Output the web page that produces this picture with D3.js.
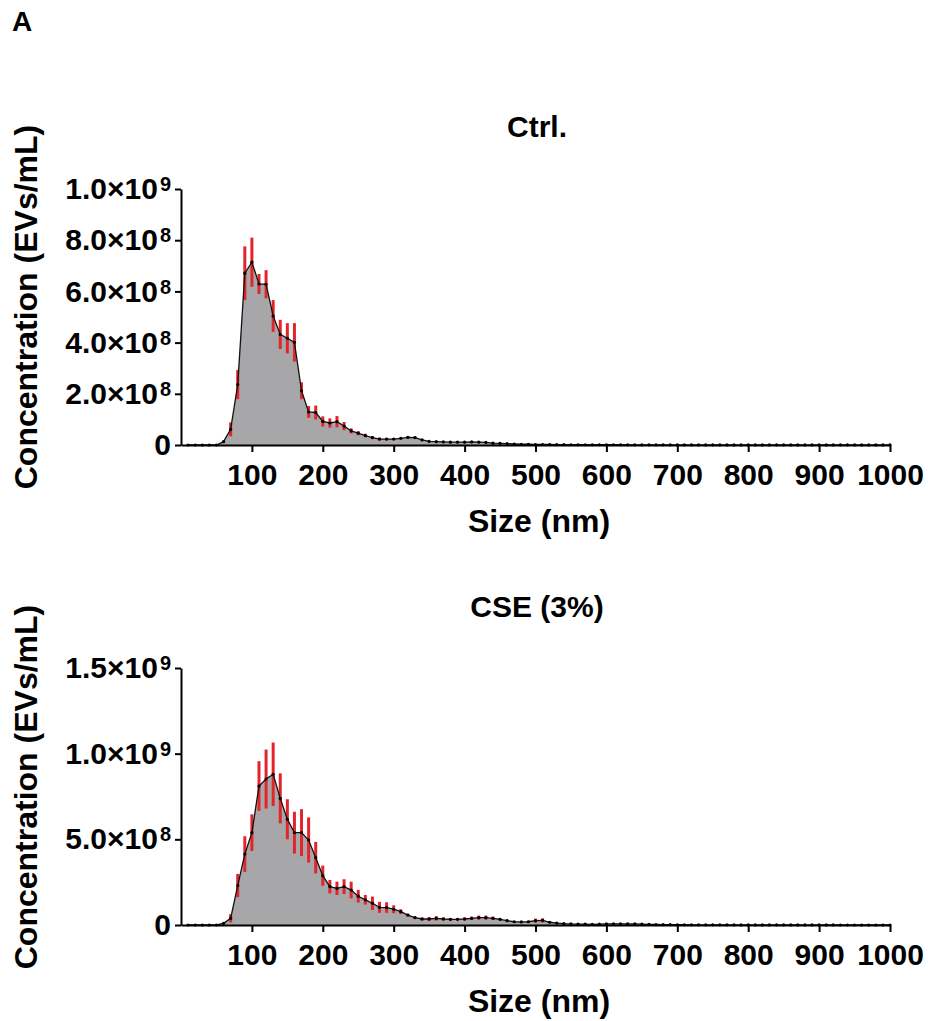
<!DOCTYPE html>
<html>
<head>
<meta charset="utf-8">
<script src="https://cdn.jsdelivr.net/npm/d3@7"></script>
<style>
  body { margin: 0; background: #fff; }
  svg { display: block; }
  text { font-family: "Liberation Sans", Arial, sans-serif; font-weight: bold; }
</style>
</head>
<body>
<div id="vis"></div>
<script>
// bin centres (nm)
const sizes = [10, 20, 30, 40, 50, 60, 70, 80, 90, 100,
  110, 120, 130, 140, 150, 160, 170, 180, 190, 200,
  210, 220, 230, 240, 250, 260, 270, 280, 290, 300,
  310, 320, 330, 340, 350, 360, 370, 380, 390, 400,
  410, 420, 430, 440, 450, 460, 470, 480, 490, 500,
  510, 520, 530, 540, 550, 560, 570, 580, 590, 600,
  610, 620, 630, 640, 650, 660, 670, 680, 690, 700,
  710, 720, 730, 740, 750, 760, 770, 780, 790, 800,
  810, 820, 830, 840, 850, 860, 870, 880, 890, 900,
  910, 920, 930, 940, 950, 960, 970, 980, 990, 1000];

// Ctrl. mean concentration (EVs/mL)
const ctrlMean = [0, 0, 0, 0, 0, 1.3e7, 6.1e7, 2.36e8, 6.71e8, 7.14e8,
  6.29e8, 6.28e8, 5.04e8, 4.32e8, 4.17e8, 4.01e8, 2.12e8, 1.29e8, 1.27e8, 9.2e7,
  8.6e7, 9.1e7, 7.4e7, 5.5e7, 4.6e7, 3.7e7, 2.9e7, 2.3e7, 2.3e7, 2.3e7,
  2.6e7, 3.0e7, 2.9e7, 2.0e7, 1.4e7, 1.3e7, 1.2e7, 1.1e7, 1.1e7, 1.1e7,
  1.2e7, 1.1e7, 1.0e7, 7e6, 6e6, 5e6, 4e6, 3e6, 3e6, 2e6,
  2e6, 2e6, 1.5e6, 1.5e6, 1e6, 1e6, 1e6, 1e6, 1e6, 1e6,
  1e6, 1e6, 8e5, 8e5, 6e5, 6e5, 5e5, 5e5, 5e5, 4e5,
  4e5, 4e5, 3e5, 3e5, 3e5, 3e5, 2e5, 2e5, 2e5, 2e5,
  2e5, 2e5, 1e5, 1e5, 1e5, 1e5, 1e5, 1e5, 1e5, 1e5,
  1e5, 1e5, 1e5, 1e5, 1e5, 1e5, 1e5, 1e5, 1e5, 1e5];

// Ctrl. SEM
const ctrlSem = [0, 0, 0, 0, 0, 3e6, 2.7e7, 5.7e7, 1.05e8, 9.6e7,
  3.9e7, 5.5e7, 6.2e7, 5.7e7, 5.9e7, 7.5e7, 3.3e7, 2.3e7, 2.7e7, 2.0e7,
  1.8e7, 2.2e7, 1.6e7, 1.0e7, 8e6, 7e6, 6e6, 6e6, 5e6, 4e6,
  4e6, 5e6, 4e6, 3e6, 2e6, 2e6, 2e6, 2e6, 2e6, 2e6,
  2e6, 2e6, 2e6, 1e6, 1e6, 1e6, 1e6, 1e6, 1e6, 1e6,
  1e6, 1e6, 5e5, 5e5, 5e5, 5e5, 5e5, 5e5, 5e5, 5e5,
  5e5, 5e5, 5e5, 5e5, 3e5, 3e5, 3e5, 3e5, 3e5, 3e5,
  2e5, 2e5, 2e5, 2e5, 2e5, 2e5, 1e5, 1e5, 1e5, 1e5,
  1e5, 1e5, 1e5, 1e5, 1e5, 1e5, 1e5, 1e5, 1e5, 1e5,
  1e5, 1e5, 1e5, 1e5, 1e5, 1e5, 1e5, 1e5, 1e5, 1e5];

// CSE (3%) mean concentration (EVs/mL)
const cseMean = [0, 0, 0, 0, 0, 1.0e7, 3.9e7, 2.3e8, 4.14e8, 5.39e8,
  8.11e8, 8.52e8, 8.8e8, 7.39e8, 6.17e8, 5.39e8, 5.39e8, 4.96e8, 3.93e8, 2.88e8,
  2.24e8, 2.14e8, 2.24e8, 2.04e8, 1.68e8, 1.47e8, 1.27e8, 1.03e8, 1.02e8, 9.2e7,
  7.8e7, 5.8e7, 4.3e7, 3.5e7, 3.5e7, 3.9e7, 3.5e7, 3.3e7, 3.3e7, 3.5e7,
  3.9e7, 4.3e7, 4.3e7, 3.9e7, 3.3e7, 2.5e7, 1.9e7, 1.8e7, 1.9e7, 2.5e7,
  2.7e7, 1.6e7, 1.1e7, 8e6, 6e6, 5e6, 5e6, 4e6, 5e6, 6e6,
  7e6, 7e6, 6e6, 6e6, 5e6, 4e6, 3e6, 2e6, 2e6, 1.5e6,
  1.5e6, 1e6, 1e6, 1e6, 1e6, 1e6, 8e5, 8e5, 6e5, 6e5,
  5e5, 5e5, 5e5, 4e5, 4e5, 3e5, 3e5, 3e5, 2e5, 2e5,
  2e5, 2e5, 1e5, 1e5, 1e5, 1e5, 1e5, 1e5, 1e5, 1e5];

// CSE (3%) SEM
const cseSem = [0, 0, 0, 0, 0, 3e6, 2.4e7, 6.8e7, 1.04e8, 1.07e8,
  1.45e8, 1.72e8, 1.85e8, 1.46e8, 1.17e8, 1.22e8, 1.37e8, 1.32e8, 9.2e7, 5.9e7,
  3.9e7, 3.9e7, 4.3e7, 4.9e7, 3.7e7, 2.8e7, 3.9e7, 3.2e7, 3.1e7, 2.3e7,
  1.4e7, 8e6, 6e6, 1.0e7, 1.2e7, 1.3e7, 1.0e7, 8e6, 6e6, 1.0e7,
  1.0e7, 1.2e7, 1.2e7, 1.0e7, 8e6, 6e6, 5e6, 5e6, 6e6, 1.2e7,
  1.2e7, 5e6, 4e6, 3e6, 2e6, 2e6, 2e6, 2e6, 2e6, 2e6,
  2e6, 2e6, 2e6, 2e6, 2e6, 1e6, 1e6, 1e6, 1e6, 5e5,
  5e5, 5e5, 5e5, 5e5, 5e5, 5e5, 3e5, 3e5, 3e5, 3e5,
  2e5, 2e5, 2e5, 2e5, 2e5, 1e5, 1e5, 1e5, 1e5, 1e5,
  1e5, 1e5, 1e5, 1e5, 1e5, 1e5, 1e5, 1e5, 1e5, 1e5];

const xTicks = [100, 200, 300, 400, 500, 600, 700, 800, 900, 1000];
const ctrlTicks = [0, 2e8, 4e8, 6e8, 8e8, 1e9];
const cseTicks = [0, 5e8, 1e9, 1.5e9];

const WIDTH = 928;
const HEIGHT = 1021;
const FONT = 30;
const FONT_TITULO_EJE = 32;

const SVG = d3.select("#vis").append("svg")
  .attr("width", WIDTH)
  .attr("height", HEIGHT);

SVG.append("text")
  .text("A")
  .attr("x", 12)
  .attr("y", 31)
  .attr("font-size", 28);

const xScale = d3.scaleLinear().domain([0, 1000]).range([181, 890]);

function panel(means, sems, ticks, yMax, yBottom, yTop, title, offset) {
  const yScale = d3.scaleLinear().domain([0, yMax]).range([yBottom, yTop]);
  const datos = sizes.map((s, i) => ({ size: s, mean: means[i], sem: sems[i] }));
  const g = SVG.append("g");

  g.append("path")
    .datum(datos)
    .attr("fill", "#a7a7a9")
    .attr("d", d3.area()
      .x(d => xScale(d.size))
      .y0(yScale(0))
      .y1(d => yScale(d.mean)));

  g.selectAll("line.err")
    .data(datos.filter(d => d.sem > 0))
    .join("line")
    .attr("class", "err")
    .attr("x1", d => xScale(d.size))
    .attr("x2", d => xScale(d.size))
    .attr("y1", d => yScale(d.mean - d.sem))
    .attr("y2", d => yScale(d.mean + d.sem))
    .attr("stroke", "#e4242b")
    .attr("stroke-width", 3);

  g.append("path")
    .datum(datos)
    .attr("fill", "none")
    .attr("stroke", "#111")
    .attr("stroke-width", 1.3)
    .attr("d", d3.line()
      .x(d => xScale(d.size))
      .y(d => yScale(d.mean)));

  g.selectAll("circle")
    .data(datos)
    .join("circle")
    .attr("cx", d => xScale(d.size))
    .attr("cy", d => yScale(d.mean))
    .attr("r", 1.6)
    .attr("fill", "#000");

  // ejes
  const ejeY = g.append("g")
    .attr("transform", `translate(${xScale(0)}, 0)`)
    .call(d3.axisLeft(yScale)
      .tickValues(ticks)
      .tickSize(6)
      .tickSizeOuter(0)
      .tickPadding(4)
      .tickFormat(() => ""));

  ejeY.selectAll(".tick text").each(function(d) {
    const t = d3.select(this);
    if (d === 0) {
      t.text("0");
      return;
    }
    const [m, e] = d.toExponential(1).split("e");
    t.append("tspan").text(`${m}×10`);
    t.append("tspan")
      .attr("dx", 2)
      .attr("dy", -8)
      .attr("font-size", 20)
      .text(+e);
  });

  const ejeX = g.append("g")
    .attr("transform", `translate(0, ${yBottom})`)
    .call(d3.axisBottom(xScale)
      .tickValues(xTicks)
      .tickSize(7)
      .tickSizeOuter(0)
      .tickPadding(12)
      .tickFormat(d3.format("d")));

  [ejeX, ejeY].forEach(eje => {
    eje.attr("font-size", FONT)
      .attr("font-family", null);
    eje.select(".domain").attr("stroke", "#000").attr("stroke-width", 2);
    eje.selectAll(".tick line").attr("stroke", "#000").attr("stroke-width", 2);
    eje.selectAll(".tick text").attr("fill", "#000");
  });

  g.append("text")
    .text(title)
    .attr("x", 537)
    .attr("y", 137 + offset)
    .attr("text-anchor", "middle")
    .attr("font-size", FONT);

  g.append("text")
    .text("Size (nm)")
    .attr("x", 539)
    .attr("y", 532 + offset)
    .attr("text-anchor", "middle")
    .attr("font-size", FONT_TITULO_EJE);

  g.append("text")
    .text("Concentration (EVs/mL)")
    .attr("transform", "rotate(-90)")
    .attr("x", -(307 + offset))
    .attr("y", 37)
    .attr("text-anchor", "middle")
    .attr("font-size", FONT_TITULO_EJE);
}

panel(ctrlMean, ctrlSem, ctrlTicks, 1e9, 445, 189, "Ctrl.", 0);
panel(cseMean, cseSem, cseTicks, 1.5e9, 925, 668, "CSE (3%)", 480);
</script>
</body>
</html>
